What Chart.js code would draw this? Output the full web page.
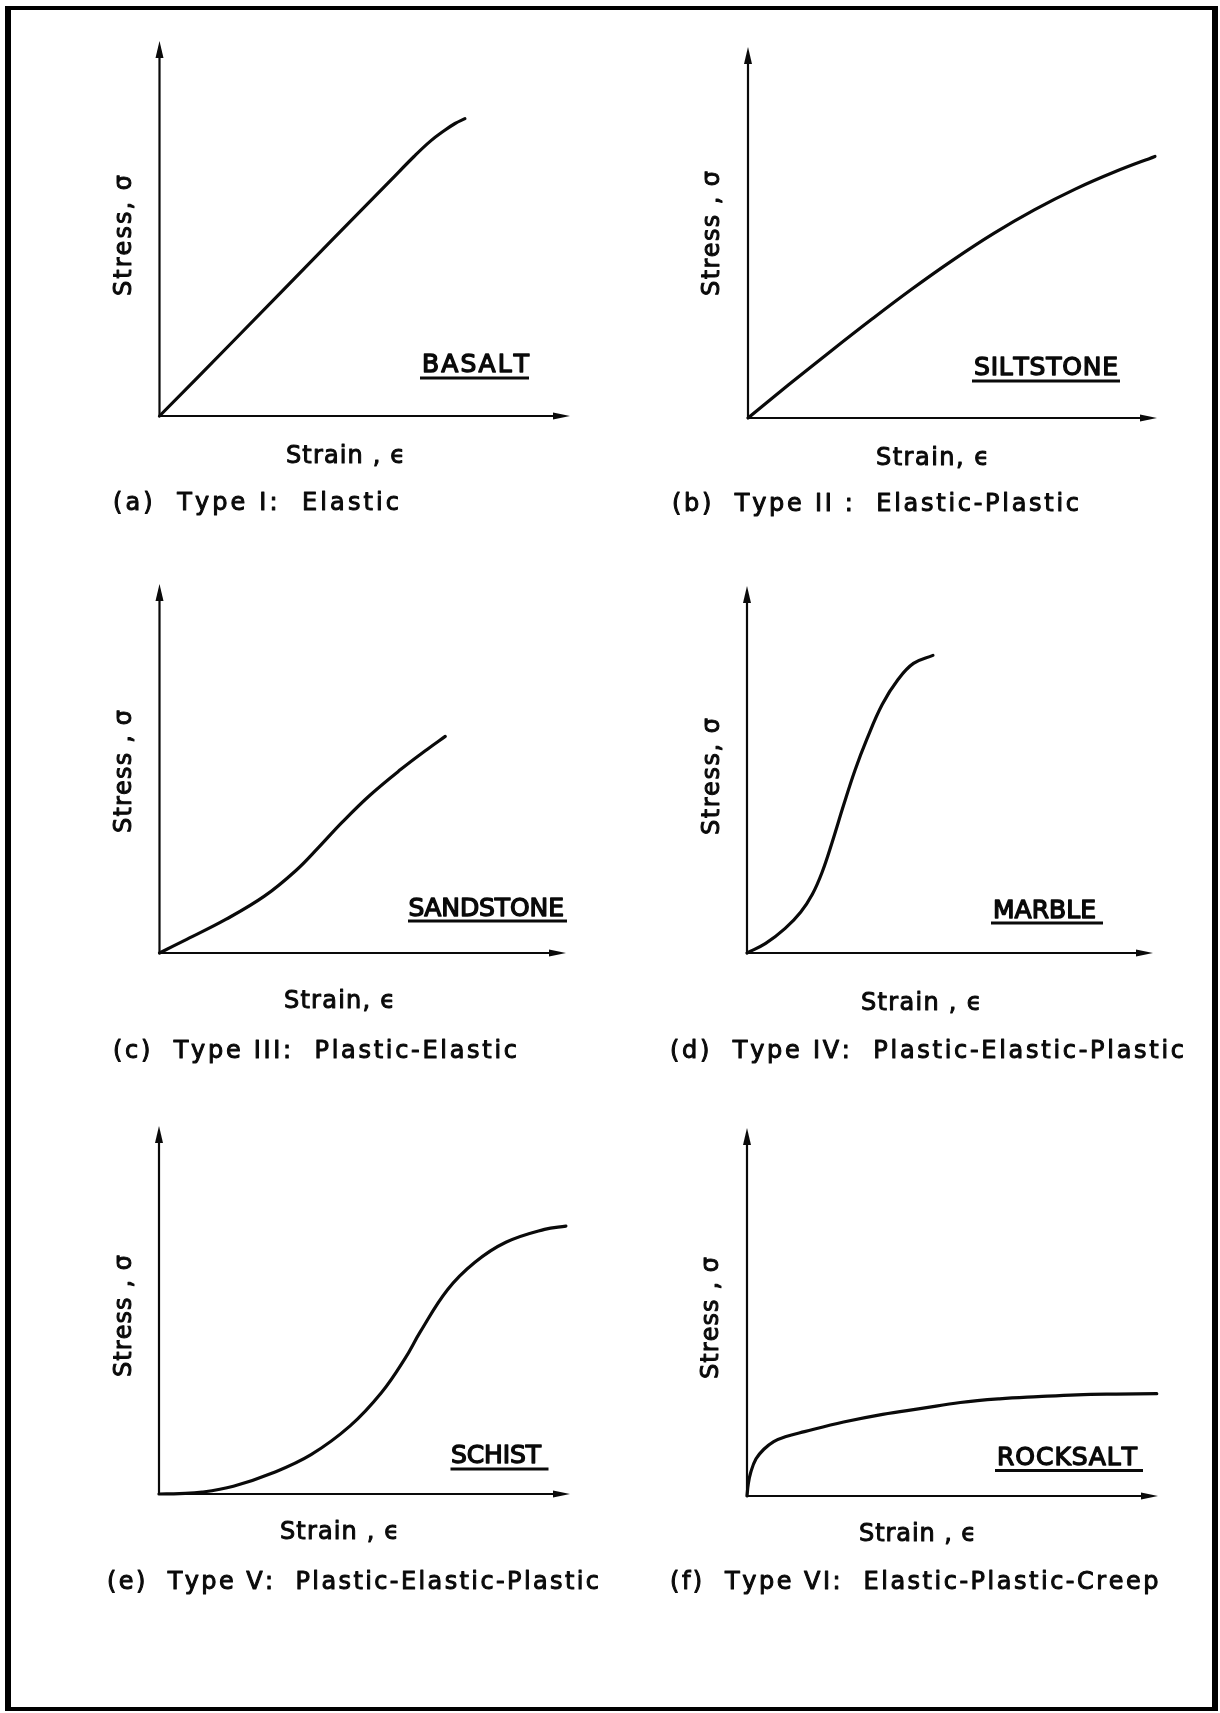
<!DOCTYPE html>
<html>
<head>
<meta charset="utf-8">
<title>Stress-strain curve types of rocks</title>
<script src="https://cdn.jsdelivr.net/npm/chart.js@4/dist/chart.umd.min.js"></script>
<style>
  html, body { margin: 0; padding: 0; background: #fff; }
  #page { position: relative; width: 1220px; height: 1713px; overflow: hidden; background: #fff; }
  #frame {
    position: absolute; left: 5px; top: 6px; width: 1213px; height: 1705px;
    box-sizing: border-box; border-style: solid; border-color: #000;
    border-width: 4px 6px 4px 6px;
  }
  canvas { position: absolute; }
</style>
</head>
<body>
<div id="page"><div id="frame"></div></div>
<script>
// ---- Curve data (strain, stress in relative units 0..10 along each axis) ----
const basaltStrain    = [0, 1.8, 4.2, 5.6, 6.2, 6.6, 6.95, 7.2, 7.44];
const basaltStress    = [0, 2.0, 4.69, 6.25, 6.92, 7.33, 7.62, 7.80, 7.93];

const siltstoneStrain = [0, 1, 2, 3, 4, 5, 6, 7, 8, 9, 9.95];
const siltstoneStress = [0, 0.90, 1.78, 2.64, 3.47, 4.25, 4.97, 5.61, 6.17, 6.65, 7.05];

const sandstoneStrain = [0, 0.67, 1.63, 2.58, 3.35, 3.92, 4.49, 5.17, 5.93, 6.60, 7.03];
const sandstoneStress = [0, 0.37, 0.91, 1.54, 2.23, 2.87, 3.54, 4.27, 4.97, 5.53, 5.87];

const marbleStrain    = [0, 0.46, 0.94, 1.32, 1.61, 1.85, 2.09, 2.38, 2.66, 2.95, 3.33, 3.72, 4.10, 4.58];
const marbleStress    = [0, 0.26, 0.67, 1.11, 1.60, 2.20, 2.99, 4.03, 4.98, 5.82, 6.77, 7.45, 7.89, 8.11];

const schistStrain    = [0, 0.5, 1.05, 1.81, 2.76, 3.70, 4.65, 5.41, 5.98, 6.36, 7.02, 7.68, 8.44, 9.38, 9.90];
const schistStress    = [0, 0.01, 0.05, 0.21, 0.57, 1.07, 1.85, 2.75, 3.67, 4.41, 5.55, 6.29, 6.84, 7.19, 7.28];

const rocksaltStrain  = [0, 0.03, 0.09, 0.22, 0.41, 0.65, 0.93, 1.40, 2.35, 3.30, 4.25, 5.19, 6.14, 7.08, 8.03, 8.98, 9.97];
const rocksaltStress  = [0, 0.32, 0.64, 1.01, 1.27, 1.48, 1.61, 1.75, 2.01, 2.22, 2.38, 2.54, 2.64, 2.70, 2.75, 2.77, 2.78];

// ---- Texts ----
const panelLetters = ['a', 'b', 'c', 'd', 'e', 'f'];
const typeNames = [
  'Type I:  Elastic',
  'Type II :  Elastic-Plastic',
  'Type III:  Plastic-Elastic',
  'Type IV:  Plastic-Elastic-Plastic',
  'Type V:  Plastic-Elastic-Plastic',
  'Type VI:  Elastic-Plastic-Creep'
];
const rockNames = ['BASALT', 'SILTSTONE', 'SANDSTONE', 'MARBLE', 'SCHIST', 'ROCKSALT'];
const stressLabels = ['Stress, \u03C3', 'Stress , \u03C3', 'Stress , \u03C3', 'Stress, \u03C3', 'Stress , \u03C3', 'Stress , \u03C3'];
const strainLabels = ['Strain , \u03F5', 'Strain, \u03F5', 'Strain, \u03F5', 'Strain , \u03F5', 'Strain , \u03F5', 'Strain , \u03F5'];

const curves = [
  [basaltStrain, basaltStress],
  [siltstoneStrain, siltstoneStress],
  [sandstoneStrain, sandstoneStress],
  [marbleStrain, marbleStress],
  [schistStrain, schistStress],
  [rocksaltStrain, rocksaltStress]
];

// ---- Layout (page pixels) ----
const cells = [
  { x: 20,  y: 14,   w: 590, h: 530 },
  { x: 612, y: 14,   w: 596, h: 530 },
  { x: 20,  y: 548,  w: 590, h: 530 },
  { x: 612, y: 548,  w: 596, h: 530 },
  { x: 20,  y: 1090, w: 590, h: 530 },
  { x: 612, y: 1090, w: 596, h: 530 }
];
// origin (ox, oy), tip of the stress arrow (top) and tip of the strain arrow (xend)
const frames = [
  { ox: 159.5, oy: 416,  top: 41,   xend: 570 },
  { ox: 748,   oy: 418,  top: 47,   xend: 1157 },
  { ox: 159.5, oy: 953,  top: 584,  xend: 566 },
  { ox: 747,   oy: 953,  top: 586,  xend: 1153 },
  { ox: 159,   oy: 1494, top: 1126, xend: 570 },
  { ox: 747,   oy: 1496, top: 1128, xend: 1158 }
];
const textLayout = [
  { stress: { bx: 130.5, y0: 296,  y1: 175 },  strain: { x0: 286, x1: 405,   y: 463 },
    rock: { x0: 422,   x1: 529,  y: 372,   ux0: 420,   ux1: 529,   uy: 378 },   caption: { x0: 113, x1: 399,    y: 510 } },
  { stress: { bx: 718.5, y0: 296,  y1: 171 },  strain: { x0: 876, x1: 989,   y: 465 },
    rock: { x0: 974,   x1: 1118, y: 375,   ux0: 972,   ux1: 1120,  uy: 381 },   caption: { x0: 672, x1: 1079,   y: 511 } },
  { stress: { bx: 130.5, y0: 833,  y1: 710 },  strain: { x0: 284, x1: 395,   y: 1008 },
    rock: { x0: 408.5, x1: 564,  y: 915.5, ux0: 408,   ux1: 567,   uy: 921 },   caption: { x0: 113, x1: 517,    y: 1058 } },
  { stress: { bx: 718.5, y0: 835,  y1: 718 },  strain: { x0: 861, x1: 981.5, y: 1010 },
    rock: { x0: 993,   x1: 1096, y: 918,   ux0: 991,   ux1: 1103,  uy: 923 },   caption: { x0: 670, x1: 1184,   y: 1058 } },
  { stress: { bx: 130.5, y0: 1377, y1: 1255 }, strain: { x0: 280, x1: 399,   y: 1539 },
    rock: { x0: 451,   x1: 541,  y: 1463,  ux0: 450.5, ux1: 548.5, uy: 1469 },  caption: { x0: 107, x1: 599,    y: 1589 } },
  { stress: { bx: 717.5, y0: 1379, y1: 1257 }, strain: { x0: 859, x1: 976,   y: 1541 },
    rock: { x0: 997,   x1: 1137, y: 1465,  ux0: 995,   ux1: 1143,  uy: 1470.5 }, caption: { x0: 670, x1: 1158.5, y: 1589 } }
];

const FONT_FAMILY = '"DejaVu Sans", "Liberation Sans", sans-serif';
const INK = '#0a0a0a';

// Draws a string so that it spans exactly from x0 to x1 on baseline y
function drawSpread(ctx, str, x0, x1, y) {
  const chars = Array.from(str);
  const widths = chars.map(c => ctx.measureText(c).width);
  const total = widths.reduce((s, w) => s + w, 0);
  const gap = chars.length > 1 ? ((x1 - x0) - total) / (chars.length - 1) : 0;
  let x = x0;
  chars.forEach((c, i) => {
    if (c !== ' ') {
      ctx.fillText(c, x, y);
      ctx.strokeText(c, x, y);
    }
    x += widths[i] + gap;
  });
}

// Stress and strain axes ending in filled arrowheads
const arrowAxes = {
  id: 'arrowAxes',
  beforeDatasetsDraw(chart) {
    const { ctx } = chart;
    const xs = chart.scales.x, ys = chart.scales.y;
    const x0 = xs.getPixelForValue(xs.min);
    const y0 = ys.getPixelForValue(ys.min);
    const xt = xs.getPixelForValue(xs.max);
    const yt = ys.getPixelForValue(ys.max);
    ctx.save();
    ctx.strokeStyle = INK;
    ctx.fillStyle = INK;
    ctx.lineWidth = 2.2;
    ctx.lineJoin = 'miter';
    ctx.beginPath();
    ctx.moveTo(x0, yt + 12);
    ctx.lineTo(x0, y0);
    ctx.lineTo(xt - 12, y0);
    ctx.stroke();
    // stress arrowhead
    ctx.beginPath();
    ctx.moveTo(x0, yt);
    ctx.lineTo(x0 - 4, yt + 17);
    ctx.lineTo(x0 + 4, yt + 17);
    ctx.closePath();
    ctx.fill();
    // strain arrowhead
    ctx.beginPath();
    ctx.moveTo(xt, y0);
    ctx.lineTo(xt - 17, y0 - 3.6);
    ctx.lineTo(xt - 17, y0 + 3.6);
    ctx.closePath();
    ctx.fill();
    ctx.restore();
  }
};

function makeLabelPlugin(i) {
  const cell = cells[i];
  const t = textLayout[i];
  return {
    id: 'panelLabels' + i,
    afterDraw(chart) {
      const ctx = chart.ctx;
      ctx.save();
      ctx.translate(-cell.x, -cell.y);
      ctx.fillStyle = INK;
      ctx.strokeStyle = INK;
      ctx.lineJoin = 'round';
      ctx.lineWidth = 1.0;
      ctx.textBaseline = 'alphabetic';
      ctx.textAlign = 'left';

      // Stress label, reading upwards
      ctx.font = '24px ' + FONT_FAMILY;
      ctx.save();
      ctx.translate(t.stress.bx, t.stress.y0);
      ctx.rotate(-Math.PI / 2);
      drawSpread(ctx, stressLabels[i], 0, t.stress.y0 - t.stress.y1, 0);
      ctx.restore();

      // Strain label
      ctx.font = '24px ' + FONT_FAMILY;
      drawSpread(ctx, strainLabels[i], t.strain.x0, t.strain.x1, t.strain.y);

      // Rock name, underlined
      ctx.font = '25px ' + FONT_FAMILY;
      ctx.lineWidth = 1.4;
      drawSpread(ctx, rockNames[i], t.rock.x0, t.rock.x1, t.rock.y);
      ctx.lineWidth = 2.8;
      ctx.beginPath();
      ctx.moveTo(t.rock.ux0, t.rock.uy);
      ctx.lineTo(t.rock.ux1, t.rock.uy);
      ctx.stroke();

      // Caption
      ctx.lineWidth = 1.0;
      ctx.font = '24px ' + FONT_FAMILY;
      drawSpread(ctx, '(' + panelLetters[i] + ')  ' + typeNames[i], t.caption.x0, t.caption.x1, t.caption.y);
      ctx.restore();
    }
  };
}

const page = document.getElementById('page');
curves.forEach(([strain, stress], i) => {
  const cell = cells[i];
  const f = frames[i];
  const canvas = document.createElement('canvas');
  canvas.width = cell.w;
  canvas.height = cell.h;
  canvas.style.left = cell.x + 'px';
  canvas.style.top = cell.y + 'px';
  canvas.style.width = cell.w + 'px';
  canvas.style.height = cell.h + 'px';
  page.appendChild(canvas);

  new Chart(canvas, {
    type: 'line',
    data: {
      datasets: [{
        label: rockNames[i],
        data: strain.map((x, k) => ({ x: x, y: stress[k] })),
        borderColor: INK,
        borderWidth: 3.2,
        borderCapStyle: 'round',
        borderJoinStyle: 'round',
        pointRadius: 0,
        fill: false,
        tension: 0.4,
        clip: false
      }]
    },
    options: {
      responsive: false,
      animation: false,
      events: [],
      devicePixelRatio: 1,
      layout: {
        padding: {
          left: f.ox - cell.x,
          top: f.top - cell.y,
          right: cell.x + cell.w - f.xend,
          bottom: cell.y + cell.h - f.oy
        }
      },
      scales: {
        x: { type: 'linear', min: 0, max: 10, display: false },
        y: { type: 'linear', min: 0, max: 10, display: false }
      },
      plugins: {
        legend: { display: false },
        tooltip: { enabled: false },
        title: { display: false }
      }
    },
    plugins: [arrowAxes, makeLabelPlugin(i)]
  });
});
</script>
</body>
</html>
